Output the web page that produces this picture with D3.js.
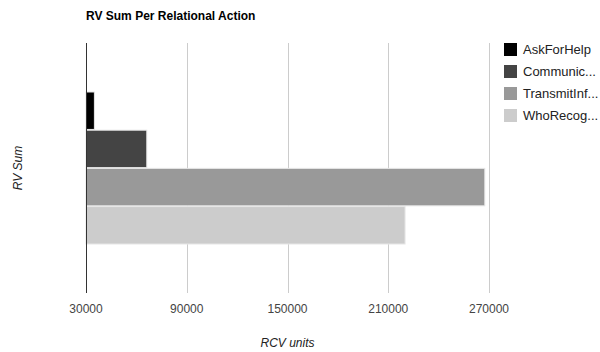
<!DOCTYPE html>
<html>
<head>
<meta charset="utf-8">
<script src="https://cdn.jsdelivr.net/npm/d3@7"></script>
<style>
  body { margin: 0; background: #fff; }
  text { font-family: "Liberation Sans", Arial, sans-serif; }
</style>
</head>
<body>
<div id="chart"></div>
<script>
// data
let seriesNames = ["AskForHelp", "Communic...", "TransmitInf...", "WhoRecog..."];
let seriesValues = [35000, 66200, 267500, 220000];
let seriesColors = ["#000000", "#444444", "#999999", "#cccccc"];
let tickValues = [30000, 90000, 150000, 210000, 270000];

let svg = d3.select("#chart")
	.append("svg")
	.attr("width", 600)
	.attr("height", 352);

let margin = {top: 43, left: 86},
	width = 403,
	height = 250,
	g = svg.append("g").attr("transform", "translate(" + margin.left + "," + margin.top + ")");

let x = d3.scaleLinear().domain([30000, 270000]).range([0, width]);
let y = d3.scaleBand().domain(seriesNames).range([49, 201]).paddingInner(0.02);

// title
svg.append("text")
	.attr("x", 86)
	.attr("y", 20)
	.style("font-size", "12px")
	.style("font-weight", "bold")
	.attr("fill", "#000")
	.text("RV Sum Per Relational Action");

// gridlines
g.selectAll(".grid")
	.data(tickValues.slice(1))
	.enter()
	.append("line")
	.attr("class", "grid")
	.attr("x1", d => Math.round(x(d)) + 0.5)
	.attr("x2", d => Math.round(x(d)) + 0.5)
	.attr("y1", 0)
	.attr("y2", height)
	.attr("stroke", "#cccccc");

// tick labels
g.selectAll(".tick-label")
	.data(tickValues)
	.enter()
	.append("text")
	.attr("class", "tick-label")
	.attr("x", d => x(d))
	.attr("y", height + 20)
	.attr("text-anchor", "middle")
	.style("font-size", "12px")
	.attr("fill", "#444")
	.text(d => d);

// bars
g.selectAll(".bar")
	.data(seriesValues)
	.enter()
	.append("rect")
	.attr("class", "bar")
	.attr("x", 0)
	.attr("y", (d, i) => y(seriesNames[i]))
	.attr("width", d => x(d) - x(30000))
	.attr("height", y.bandwidth())
	.attr("fill", (d, i) => seriesColors[i])
	.attr("stroke", "#e6e6e6")
	.attr("stroke-width", 1);

// baseline
g.append("line")
	.attr("x1", 0.5)
	.attr("x2", 0.5)
	.attr("y1", 0)
	.attr("y2", height)
	.attr("stroke", "#333")
	.attr("stroke-width", 1);

// axis titles
svg.append("text")
	.attr("x", margin.left + width / 2)
	.attr("y", 347)
	.attr("text-anchor", "middle")
	.style("font-size", "12px")
	.style("font-style", "italic")
	.attr("fill", "#222")
	.text("RCV units");

svg.append("text")
	.attr("transform", "translate(22," + (margin.top + height / 2) + ") rotate(-90)")
	.attr("text-anchor", "middle")
	.style("font-size", "12px")
	.style("font-style", "italic")
	.attr("fill", "#222")
	.text("RV Sum");

// legend
let legend = svg.append("g").attr("transform", "translate(504,43)");
let rows = legend.selectAll(".legend-row")
	.data(seriesNames)
	.enter()
	.append("g")
	.attr("class", "legend-row")
	.attr("transform", (d, i) => "translate(0," + (i * 22) + ")");
rows.append("rect")
	.attr("width", 13)
	.attr("height", 13)
	.attr("fill", (d, i) => seriesColors[i]);
rows.append("text")
	.attr("x", 19)
	.attr("y", 11)
	.style("font-size", "13px")
	.attr("fill", "#222")
	.text(d => d);
</script>
</body>
</html>
